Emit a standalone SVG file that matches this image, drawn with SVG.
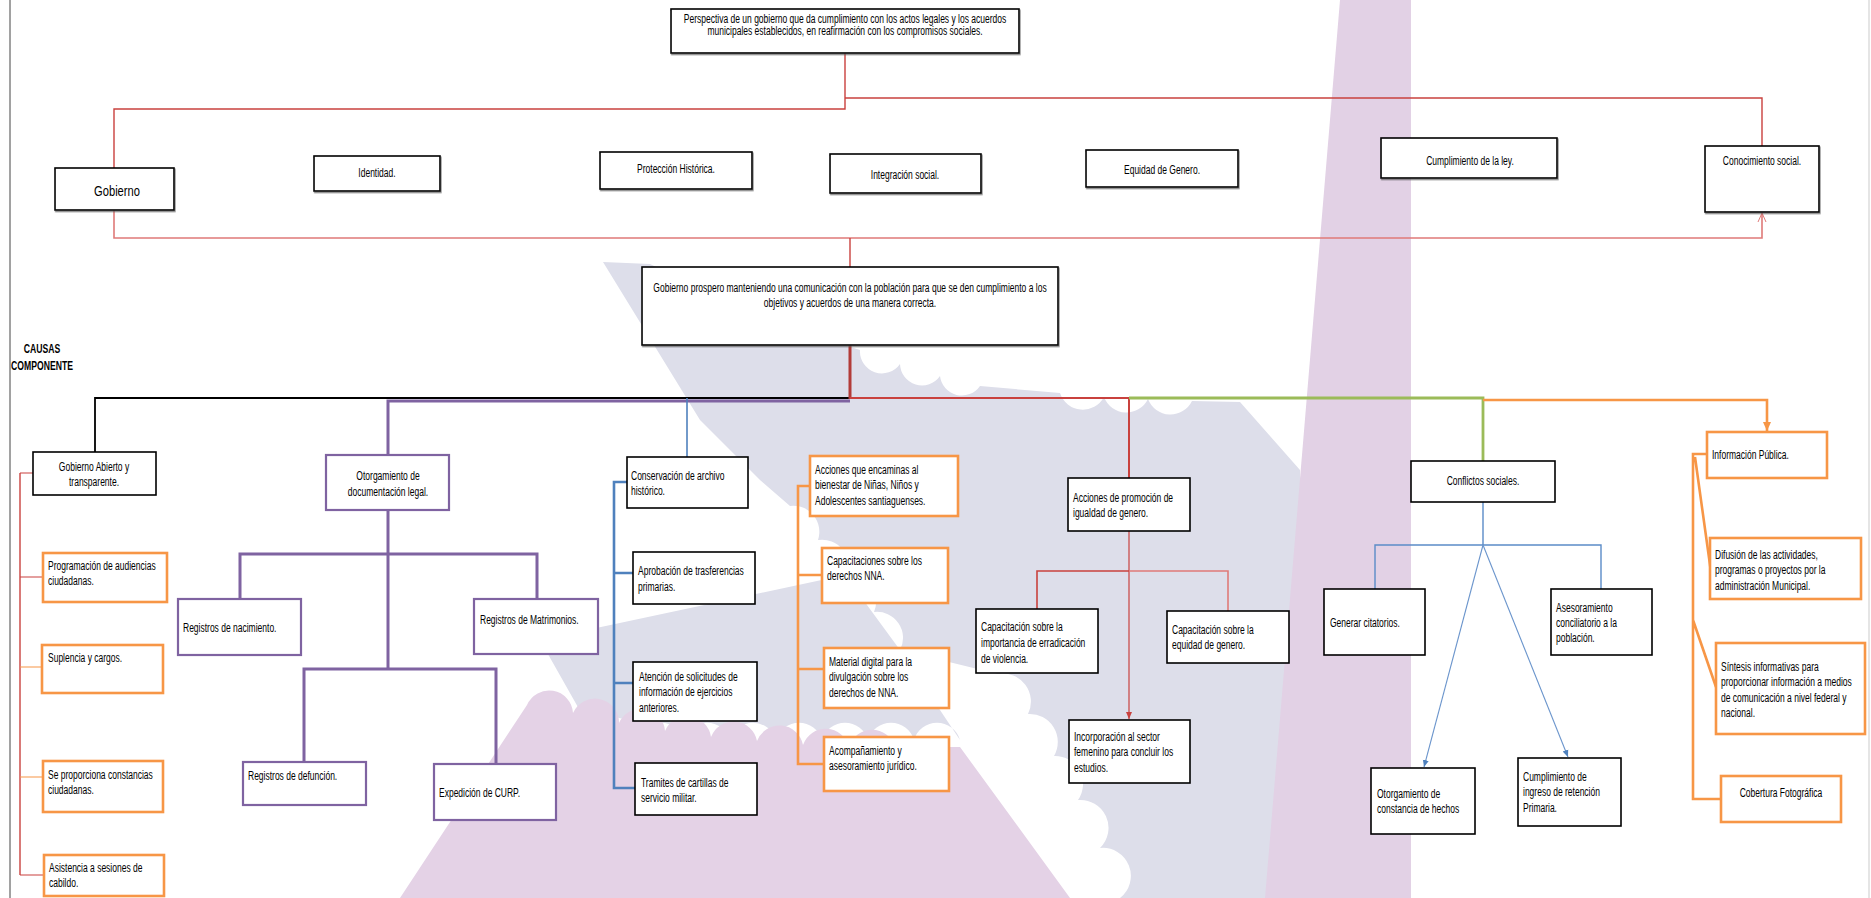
<svg xmlns="http://www.w3.org/2000/svg" width="1871" height="898" viewBox="0 0 1871 898">
<style>
.bk{fill:#fff;stroke:#000;stroke-width:1.6}
.pu{fill:#fff;stroke:#7f63a1;stroke-width:2.2}
.or{fill:#fff;stroke:#f79646;stroke-width:2.6}
.t{font-family:"Liberation Sans",Arial,sans-serif;font-size:13.5px;fill:#000}
.c{text-anchor:middle}
.b{font-weight:bold;font-size:12px}
.rd{fill:none;stroke:#c9413e;stroke-width:1.4}
.rl{fill:none;stroke:#df7a78;stroke-width:1.6}
.pl{fill:none;stroke:#7f63a1;stroke-width:3}
.bl{fill:none;stroke:#4f81bd;stroke-width:2.6}
.blt{fill:none;stroke:#6b95cc;stroke-width:1.1}
.og{fill:none;stroke:#f79646;stroke-width:2.6}
.gr{fill:none;stroke:#9bbb59;stroke-width:2.8}
.k{fill:none;stroke:#000;stroke-width:1.8}
</style>
<defs>
<filter id="sh" x="-5%" y="-10%" width="115%" height="130%"><feDropShadow dx="0.8" dy="1.4" stdDeviation="0.4" flood-color="#555" flood-opacity="0.7"/></filter>
<marker id="arO" markerWidth="10" markerHeight="10" refX="9" refY="5" orient="auto" markerUnits="userSpaceOnUse"><path d="M0,1 L9,5 L0,9 z" fill="#f79646"/></marker>
<marker id="arR" markerWidth="8" markerHeight="8" refX="7" refY="4" orient="auto" markerUnits="userSpaceOnUse"><path d="M0,1 L7,4 L0,7 z" fill="#c9413e"/></marker>
<marker id="arV" markerWidth="10" markerHeight="10" refX="9" refY="5" orient="auto" markerUnits="userSpaceOnUse"><path d="M0,1 L9,5 L0,9" fill="none" stroke="#df7a78" stroke-width="1"/></marker>
<marker id="arB" markerWidth="8" markerHeight="8" refX="7" refY="4" orient="auto" markerUnits="userSpaceOnUse"><path d="M0,1 L7,4 L0,7 z" fill="#4f81bd"/></marker>
</defs>
<rect width="1871" height="898" fill="#fff"/>
<g id="watermark">
<path d="M603,262 L650,264 L760,318 L860,350 a22,22 0 0 0 40,14 a22,22 0 0 0 40,12 a22,22 0 0 0 40,10 L1060,393 a24,24 0 0 0 44,4 a24,24 0 0 0 44,2 a24,24 0 0 0 44,2 L1240,402 L1300,470 L1300,898 L1120,898 a28,28 0 0 0 -20,-50 a28,28 0 0 0 -22,-48 a28,28 0 0 0 -24,-44 a28,28 0 0 0 -26,-42 a28,28 0 0 0 -30,-40 L900,650 a26,26 0 0 0 -26,-38 a26,26 0 0 0 -28,-36 a26,26 0 0 0 -28,-36 a26,26 0 0 0 -28,-34 L760,480 L700,420 Z" fill="#dddeea"/>
<path d="M540,640 L845,575 L900,650 L960,740 a24,24 0 0 0 -46,0 a24,24 0 0 0 -46,0 a24,24 0 0 0 -46,0 a24,24 0 0 0 -46,0 a24,24 0 0 0 -46,0 a24,24 0 0 0 -46,0 a24,24 0 0 0 -46,0 a24,24 0 0 0 -46,-8 Z" fill="#dddeea"/>
<path d="M400,898 L527,705 a24,24 0 0 1 46,8 a24,24 0 0 1 46,10 a24,24 0 0 1 46,8 a24,24 0 0 1 46,6 a24,24 0 0 1 46,4 a24,24 0 0 1 46,4 a24,24 0 0 1 46,2 a24,24 0 0 1 46,0 L960,747 L1070,898 Z" fill="#e4d2e6"/>
<path d="M1340,0 L1411,0 L1411,898 L1265,898 Z" fill="#e2d1e5"/>
</g>
<line x1="10" y1="0" x2="10" y2="898" stroke="#444" stroke-width="1"/>
<line x1="1869" y1="0" x2="1869" y2="898" stroke="#ddd" stroke-width="1.5"/>
<g id="connectors">
<path class="rd" d="M845,53 V109 H114 V168"/>
<path class="rd" d="M845,98 H1762 V146"/>
<path class="rl" d="M114,210 V238 H1762 V213" marker-end="url(#arV)"/>
<path class="rd" d="M850,238 V267"/>
<path class="k" d="M850,398 H95 V452"/>
<path class="pl" d="M850,401 H388 V455"/>
<path fill="none" stroke="#4f81bd" stroke-width="1.6" d="M687,398 V457"/>
<path fill="none" stroke="#b23b38" stroke-width="3" d="M850,345 V399"/>
<path fill="none" stroke="#c9413e" stroke-width="2" d="M850,398 H1129 V478"/>
<path class="gr" d="M1129,398 H1483 V461"/>
<path class="og" d="M1483,400 H1767 V431" marker-end="url(#arO)"/>
<path fill="none" stroke="#c9413e" stroke-width="1.4" d="M20,473 V875"/>
<path fill="none" stroke="#c9413e" stroke-width="1.2" d="M20,473 H33 M20,577 H43 M20,875 H44"/>
<path fill="none" stroke="#f79646" stroke-width="1.2" d="M20,667 H42 M20,777 H43"/>
<path class="pl" d="M388,510 V669"/>
<path class="pl" d="M240,599 V554 H537 V599"/>
<path class="pl" d="M304,762 V669 H496 V764"/>
<path class="bl" d="M627,482 H614 V788 H635 M614,573 H633 M614,683 H633"/>
<path class="og" d="M810,486 H798 V764 H824 M798,575 H822 M798,669 H824"/>
<path fill="none" stroke="#c9413e" stroke-width="1.2" d="M1129,531 V719" marker-end="url(#arR)"/>
<path fill="none" stroke="#c9413e" stroke-width="1.6" d="M1037,609 V571 H1129"/>
<path class="rl" d="M1129,571 H1228 V611"/>
<path fill="none" stroke="#5b8cc8" stroke-width="1.4" d="M1483,502 V545 M1375,589 V545 H1601 V589"/>
<path class="blt" d="M1483,545 L1424,767" marker-end="url(#arB)"/>
<path class="blt" d="M1483,545 L1568,757" marker-end="url(#arB)"/>
<path class="og" d="M1707,454 H1693 V799 H1721 M1695,457 L1711,572 M1693,620 L1716,687"/>
</g>
<g id="n_top"><rect class="bk" style="filter:url(#sh)" x="671" y="9" width="348" height="44"/><text class="t c" transform="translate(845,22.5) scale(0.63,1)"><tspan x="0">Perspectiva de un gobierno que da cumplimiento con los actos legales y los acuerdos</tspan><tspan x="0" dy="13">municipales establecidos, en reafirmación con los compromisos sociales.</tspan></text></g>
<g id="n_gobierno"><rect class="bk" style="filter:url(#sh)" x="55" y="168" width="119" height="42"/><text class="t c" style="font-size:15.5px" transform="translate(117,196) scale(0.72,1)">Gobierno</text></g>
<g id="n_identidad"><rect class="bk" style="filter:url(#sh)" x="314" y="156" width="126" height="35"/><text class="t c" transform="translate(377,177) scale(0.63,1)">Identidad.</text></g>
<g id="n_proteccion"><rect class="bk" style="filter:url(#sh)" x="600" y="152" width="152" height="37"/><text class="t c" transform="translate(676,173) scale(0.63,1)">Protección Histórica.</text></g>
<g id="n_integracion"><rect class="bk" style="filter:url(#sh)" x="830" y="154" width="151" height="39"/><text class="t c" transform="translate(905,179) scale(0.63,1)">Integración  social.</text></g>
<g id="n_equidad"><rect class="bk" style="filter:url(#sh)" x="1086" y="150" width="152" height="37"/><text class="t c" transform="translate(1162,174) scale(0.63,1)">Equidad de Genero.</text></g>
<g id="n_cumplimiento"><rect class="bk" style="filter:url(#sh)" x="1381" y="138" width="176" height="40"/><text class="t c" transform="translate(1470,165) scale(0.63,1)">Cumplimiento de la ley.</text></g>
<g id="n_conocimiento"><rect class="bk" style="filter:url(#sh)" x="1705" y="146" width="114" height="66"/><text class="t c" transform="translate(1762,165) scale(0.63,1)">Conocimiento social.</text></g>
<g id="n_central"><rect class="bk" style="filter:url(#sh)" x="642" y="267" width="416" height="78"/><text class="t c" transform="translate(850,292) scale(0.63,1)"><tspan x="0">Gobierno prospero manteniendo  una comunicación con la población para que se den cumplimiento  a los</tspan><tspan x="0" dy="15">objetivos  y acuerdos de una manera correcta.</tspan></text></g>
<g id="label_causas"><text class="t c b" transform="translate(42,353) scale(0.72,1)"><tspan x="0">CAUSAS</tspan><tspan x="0" dy="17">COMPONENTE</tspan></text></g>
<g id="n_gob_abierto"><rect class="bk" x="33" y="452" width="123" height="43"/><text class="t c" transform="translate(94,471) scale(0.63,1)"><tspan x="0">Gobierno Abierto y</tspan><tspan x="0" dy="15.5">transparente.</tspan></text></g>
<g id="n_programacion"><rect class="or" x="43" y="553" width="124" height="49"/><text class="t" transform="translate(48,570) scale(0.63,1)"><tspan x="0">Programación de audiencias</tspan><tspan x="0" dy="15.5">ciudadanas.</tspan></text></g>
<g id="n_suplencia"><rect class="or" x="42" y="645" width="121" height="48"/><text class="t" transform="translate(48,662) scale(0.63,1)">Suplencia  y cargos.</text></g>
<g id="n_constancias"><rect class="or" x="43" y="761" width="120" height="51"/><text class="t" transform="translate(48,779) scale(0.63,1)"><tspan x="0">Se proporciona constancias</tspan><tspan x="0" dy="15">ciudadanas.</tspan></text></g>
<g id="n_asistencia"><rect class="or" x="44" y="855" width="120" height="41"/><text class="t" transform="translate(49,872) scale(0.63,1)"><tspan x="0">Asistencia a sesiones de</tspan><tspan x="0" dy="15">cabildo.</tspan></text></g>
<g id="n_otorgamiento"><rect class="pu" x="326" y="455" width="123" height="55"/><text class="t c" transform="translate(388,480) scale(0.63,1)"><tspan x="0">Otorgamiento  de</tspan><tspan x="0" dy="16">documentación  legal.</tspan></text></g>
<g id="n_nacimiento"><rect class="pu" x="178" y="599" width="123" height="56"/><text class="t" transform="translate(183,632) scale(0.63,1)">Registros de nacimiento.</text></g>
<g id="n_matrimonios"><rect class="pu" x="474" y="599" width="124" height="55"/><text class="t" transform="translate(480,624) scale(0.63,1)">Registros de Matrimonios.</text></g>
<g id="n_defuncion"><rect class="pu" x="243" y="762" width="123" height="43"/><text class="t" transform="translate(248,780) scale(0.63,1)">Registros de defunción.</text></g>
<g id="n_curp"><rect class="pu" x="434" y="764" width="122" height="56"/><text class="t" transform="translate(439,797) scale(0.63,1)">Expedición  de CURP.</text></g>
<g id="n_conservacion"><rect class="bk" x="627" y="457" width="121" height="51"/><text class="t" transform="translate(631,480) scale(0.63,1)"><tspan x="0">Conservación  de archivo</tspan><tspan x="0" dy="15">histórico.</tspan></text></g>
<g id="n_aprobacion"><rect class="bk" x="633" y="552" width="122" height="52"/><text class="t" transform="translate(638,575) scale(0.63,1)"><tspan x="0">Aprobación de trasferencias</tspan><tspan x="0" dy="16">primarias.</tspan></text></g>
<g id="n_atencion"><rect class="bk" x="633" y="662" width="124" height="59"/><text class="t" transform="translate(639,681) scale(0.63,1)"><tspan x="0">Atención de solicitudes de</tspan><tspan x="0" dy="15.5">información de ejercicios</tspan><tspan x="0" dy="15.5">anteriores.</tspan></text></g>
<g id="n_tramites"><rect class="bk" x="635" y="763" width="122" height="52"/><text class="t" transform="translate(641,787) scale(0.63,1)"><tspan x="0">Tramites  de cartillas de</tspan><tspan x="0" dy="15">servicio militar.</tspan></text></g>
<g id="n_acciones_nna"><rect class="or" x="810" y="456" width="148" height="60"/><text class="t" transform="translate(815,474) scale(0.63,1)"><tspan x="0">Acciones que encaminas al</tspan><tspan x="0" dy="15.5">bienestar de Niñas, Niños y</tspan><tspan x="0" dy="15.5">Adolescentes santiaguenses.</tspan></text></g>
<g id="n_capacitaciones"><rect class="or" x="822" y="548" width="126" height="55"/><text class="t" transform="translate(827,565) scale(0.63,1)"><tspan x="0">Capacitaciones sobre los</tspan><tspan x="0" dy="15">derechos  NNA.</tspan></text></g>
<g id="n_material"><rect class="or" x="824" y="648" width="125" height="60"/><text class="t" transform="translate(829,666) scale(0.63,1)"><tspan x="0">Material digital para la</tspan><tspan x="0" dy="15.5">divulgación  sobre los</tspan><tspan x="0" dy="15.5">derechos de NNA.</tspan></text></g>
<g id="n_acompanamiento"><rect class="or" x="824" y="737" width="125" height="54"/><text class="t" transform="translate(829,755) scale(0.63,1)"><tspan x="0">Acompañamiento y</tspan><tspan x="0" dy="15">asesoramiento jurídico.</tspan></text></g>
<g id="n_promocion"><rect class="bk" x="1068" y="478" width="122" height="53"/><text class="t" transform="translate(1073,502) scale(0.63,1)"><tspan x="0">Acciones de promoción de</tspan><tspan x="0" dy="15.5">igualdad de genero.</tspan></text></g>
<g id="n_violencia"><rect class="bk" x="976" y="609" width="122" height="64"/><text class="t" transform="translate(981,631) scale(0.63,1)"><tspan x="0">Capacitación sobre la</tspan><tspan x="0" dy="16">importancia de erradicación</tspan><tspan x="0" dy="16">de violencia.</tspan></text></g>
<g id="n_equidad2"><rect class="bk" x="1167" y="611" width="122" height="52"/><text class="t" transform="translate(1172,634) scale(0.63,1)"><tspan x="0">Capacitación sobre la</tspan><tspan x="0" dy="15">equidad de genero.</tspan></text></g>
<g id="n_incorporacion"><rect class="bk" x="1069" y="720" width="121" height="63"/><text class="t" transform="translate(1074,741) scale(0.63,1)"><tspan x="0">Incorporación al sector</tspan><tspan x="0" dy="15.5">femenino para concluir los</tspan><tspan x="0" dy="15.5">estudios.</tspan></text></g>
<g id="n_conflictos"><rect class="bk" x="1411" y="461" width="144" height="41"/><text class="t c" transform="translate(1483,485) scale(0.63,1)">Conflictos sociales.</text></g>
<g id="n_citatorios"><rect class="bk" x="1324" y="589" width="101" height="66"/><text class="t" transform="translate(1330,627) scale(0.63,1)">Generar citatorios.</text></g>
<g id="n_asesoramiento"><rect class="bk" x="1551" y="589" width="101" height="66"/><text class="t" transform="translate(1556,612) scale(0.63,1)"><tspan x="0">Asesoramiento</tspan><tspan x="0" dy="15">conciliatorio a la</tspan><tspan x="0" dy="15">población.</tspan></text></g>
<g id="n_hechos"><rect class="bk" x="1371" y="768" width="104" height="66"/><text class="t" transform="translate(1377,798) scale(0.63,1)"><tspan x="0">Otorgamiento de</tspan><tspan x="0" dy="15">constancia de hechos</tspan></text></g>
<g id="n_retencion"><rect class="bk" x="1518" y="758" width="103" height="68"/><text class="t" transform="translate(1523,781) scale(0.63,1)"><tspan x="0">Cumplimiento de</tspan><tspan x="0" dy="15.5">ingreso de retención</tspan><tspan x="0" dy="15.5">Primaria.</tspan></text></g>
<g id="n_info"><rect class="or" x="1707" y="432" width="120" height="46"/><text class="t" transform="translate(1712,459) scale(0.63,1)">Información  Pública.</text></g>
<g id="n_difusion"><rect class="or" x="1710" y="538" width="151" height="61"/><text class="t" transform="translate(1715,559) scale(0.63,1)"><tspan x="0">Difusión de las actividades,</tspan><tspan x="0" dy="15.5">programas o proyectos por la</tspan><tspan x="0" dy="15.5">administración Municipal.</tspan></text></g>
<g id="n_sintesis"><rect class="or" x="1716" y="643" width="149" height="91"/><text class="t" transform="translate(1721,671) scale(0.63,1)"><tspan x="0">Síntesis  informativas  para</tspan><tspan x="0" dy="15.5">proporcionar información a medios</tspan><tspan x="0" dy="15.5">de comunicación a nivel federal y</tspan><tspan x="0" dy="15.5">nacional.</tspan></text></g>
<g id="n_cobertura"><rect class="or" x="1721" y="776" width="120" height="46"/><text class="t c" transform="translate(1781,797) scale(0.63,1)">Cobertura Fotográfica</text></g>
</svg>
